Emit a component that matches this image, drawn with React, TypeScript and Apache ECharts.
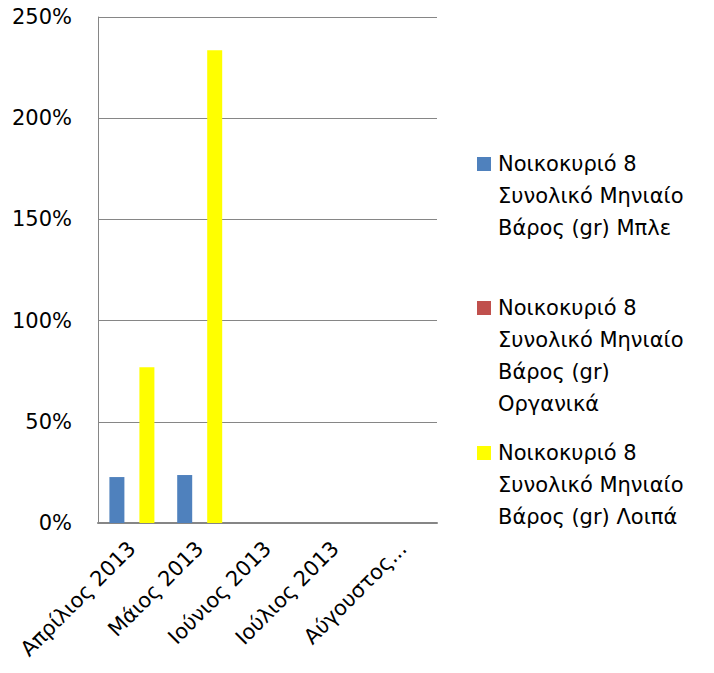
import React, { useEffect, useRef } from "react";
import * as echarts from "echarts";

// Months on the category axis
const months = ["Απρίλιος 2013", "Μάιος 2013", "Ιούνιος 2013", "Ιούλιος 2013", "Αύγουστος 2013"];

// Series names (legend entries, wrapped over several lines)
const nameBlue = "Νοικοκυριό 8\nΣυνολικό Μηνιαίο\nΒάρος (gr) Μπλε";
const nameRed = "Νοικοκυριό 8\nΣυνολικό Μηνιαίο\nΒάρος (gr)\nΟργανικά";
const nameYellow = "Νοικοκυριό 8\nΣυνολικό Μηνιαίο\nΒάρος (gr) Λοιπά";

// Monthly values as fractions (1 = 100%)
const blueValues = [0.227, 0.237, null, null, null];
const redValues = [0, 0, null, null, null];
const yellowValues = [0.77, 2.336, null, null, null];

// Y axis ticks
const yMin = 0;
const yMax = 2.5;
const yStep = 0.5;

const FONT = "DejaVu Sans";
const FONT_SIZE = 21;
const LINE_H = 32;
const SQ = 14;

// One legend per series; the icon is a square at the top of a tall,
// otherwise empty box so that it sits level with the first text line.
function legendFor(name: string, firstLineY: number) {
  const lines = name.split("\n").length;
  const h = SQ + (lines - 1) * LINE_H;
  const icon = `path://M0,0H${SQ}V${SQ}H0Z M0,${h}H${SQ}V${h}H0Z`;
  return {
    left: 477,
    top: firstLineY - 16,
    orient: "vertical",
    padding: 0,
    itemWidth: SQ,
    itemHeight: h,
    itemGap: 0,
    icon,
    selectedMode: false,
    data: [name],
    textStyle: {
      fontFamily: FONT,
      fontSize: FONT_SIZE,
      color: "#000",
      lineHeight: LINE_H,
      padding: [0, 0, 0, 2],
    },
  };
}

export default function App() {
  const ref = useRef<HTMLDivElement>(null);

  useEffect(() => {
    if (!ref.current) return;
    const chart = echarts.init(ref.current, null, { renderer: "svg" });
    chart.setOption({
      animation: false,
      backgroundColor: "#fff",
      grid: { left: 98, right: 277, top: 17, bottom: 150 },
      legend: [
        legendFor(nameBlue, 164),
        legendFor(nameRed, 308),
        legendFor(nameYellow, 453),
      ],
      xAxis: {
        type: "category",
        data: months,
        axisLine: { show: true, lineStyle: { color: "#868686", width: 2 } },
        axisTick: { show: false },
        axisLabel: {
          rotate: 45,
          margin: 22,
          interval: 0,
          fontFamily: FONT,
          fontSize: FONT_SIZE,
          color: "#000",
          formatter: (v: string) => (v.length > 13 ? v.slice(0, 9) + "..." : v),
        },
      },
      yAxis: {
        type: "value",
        min: yMin,
        max: yMax,
        interval: yStep,
        axisLine: { show: true, lineStyle: { color: "#868686", width: 1 } },
        axisTick: { show: false },
        splitLine: { show: true, lineStyle: { color: "#868686", width: 1 } },
        axisLabel: {
          margin: 26,
          fontFamily: FONT,
          fontSize: FONT_SIZE,
          color: "#000",
          formatter: (v: number) => Math.round(v * 100) + "%",
        },
      },
      series: [
        { name: nameBlue, type: "bar", data: blueValues, barWidth: 15, barGap: "0%", itemStyle: { color: "#4F81BD" } },
        { name: nameRed, type: "bar", data: redValues, barWidth: 15, barGap: "0%", itemStyle: { color: "#C0504D" } },
        { name: nameYellow, type: "bar", data: yellowValues, barWidth: 15, barGap: "0%", itemStyle: { color: "#FFFF00" } },
      ],
    });
    return () => chart.dispose();
  }, []);

  return (
    <div
      ref={ref}
      style={{ position: "absolute", left: 0, top: 0, width: 714, height: 673 }}
    />
  );
}
